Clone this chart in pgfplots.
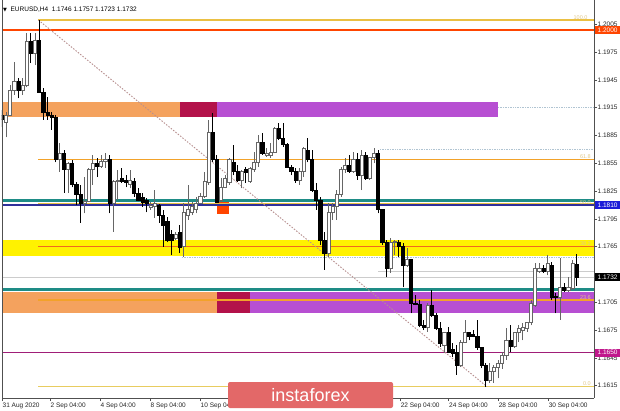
\documentclass[border=0pt]{standalone}
\usepackage{fontspec}
\setmainfont{Liberation Sans}
\newfontfamily\djv{DejaVu Sans}
\usepackage{pgfplots}
\usepackage{pgfplotstable}
\pgfplotsset{compat=1.18}
\definecolor{zorange}{HTML}{F4A25E}
\definecolor{zcrimson}{HTML}{B3124A}
\definecolor{zpurple}{HTML}{B74FD2}
\definecolor{zyellow}{HTML}{FFF200}
\definecolor{redline}{HTML}{FF4500}
\definecolor{tealline}{HTML}{1E8C86}
\definecolor{blueline}{HTML}{30309A}
\definecolor{bluebox}{HTML}{1C1CD8}
\definecolor{magline}{HTML}{A01E78}
\definecolor{magbox}{HTML}{C0188C}
\definecolor{fibgold}{HTML}{EBC043}
\definecolor{fibpale}{HTML}{E8CC60}
\definecolor{fiborange}{HTML}{F2A22A}
\definecolor{fibred}{HTML}{F06A1E}
\definecolor{fibtxt}{HTML}{E2C98A}
\definecolor{diag}{HTML}{B89090}
\definecolor{dotblue}{HTML}{B0C4D2}
\definecolor{wmark}{HTML}{E36868}
\definecolor{axcol}{HTML}{505050}

\pgfplotstableread{
k o h l c
0 1.1907 1.1913 1.1894 1.1902
1 1.1899 1.1910 1.1883 1.1907
2 1.1907 1.1939 1.1906 1.1934
3 1.1934 1.1964 1.1929 1.1943
4 1.1943 1.1947 1.1925 1.1934
5 1.1934 1.1947 1.1929 1.1939
6 1.1939 1.1996 1.1937 1.1986
7 1.1986 1.1996 1.1963 1.1974
8 1.1974 1.1996 1.1961 1.1988
9 1.1988 1.2010 1.1931 1.1932
10 1.1932 1.1936 1.1902 1.1910
11 1.1910 1.1927 1.1902 1.1907
12 1.1907 1.1910 1.1891 1.1904
13 1.1904 1.1907 1.1856 1.1859
14 1.1859 1.1877 1.1846 1.1866
15 1.1866 1.1869 1.1823 1.1848
16 1.1848 1.1856 1.1823 1.1855
17 1.1855 1.1859 1.1829 1.1832
18 1.1832 1.1835 1.1810 1.1821
19 1.1821 1.1832 1.1791 1.1812
20 1.1812 1.1840 1.1801 1.1814
21 1.1814 1.1850 1.1813 1.1848
22 1.1848 1.1864 1.1832 1.1855
23 1.1855 1.1861 1.1840 1.1852
24 1.1852 1.1864 1.1850 1.1857
25 1.1857 1.1866 1.1850 1.1859
26 1.1859 1.1864 1.1801 1.1812
27 1.1812 1.1837 1.1781 1.1835
28 1.1835 1.1848 1.1815 1.1837
29 1.1839 1.1850 1.1834 1.1835
30 1.1837 1.1842 1.1829 1.1834
31 1.1832 1.1848 1.1828 1.1837
32 1.1835 1.1839 1.1819 1.1823
33 1.1823 1.1828 1.1814 1.1815
34 1.1818 1.1823 1.1808 1.1813
35 1.1815 1.1817 1.1802 1.1812
36 1.1807 1.1813 1.1805 1.1810
37 1.1808 1.1826 1.1796 1.1812
38 1.1810 1.1811 1.1791 1.1799
39 1.1799 1.1805 1.1765 1.1788
40 1.1792 1.1797 1.1770 1.1772
41 1.1778 1.1783 1.1756 1.1772
42 1.1774 1.1781 1.1772 1.1778
43 1.1780 1.1788 1.1758 1.1764
44 1.1765 1.1812 1.1754 1.1802
45 1.1799 1.1832 1.1794 1.1805
46 1.1802 1.1813 1.1799 1.1808
47 1.1805 1.1819 1.1801 1.1812
48 1.1812 1.1823 1.1811 1.1819
49 1.1819 1.1846 1.1818 1.1835
50 1.1834 1.1902 1.1832 1.1888
51 1.1888 1.1909 1.1856 1.1859
52 1.1859 1.1864 1.1812 1.1813
53 1.1815 1.1839 1.1813 1.1829
54 1.1829 1.1842 1.1828 1.1839
55 1.1834 1.1861 1.1832 1.1859
56 1.1856 1.1875 1.1842 1.1846
57 1.1846 1.1853 1.1835 1.1837
58 1.1837 1.1848 1.1828 1.1846
59 1.1848 1.1851 1.1834 1.1845
60 1.1835 1.1851 1.1834 1.1850
61 1.1848 1.1867 1.1846 1.1856
62 1.1856 1.1885 1.1851 1.1878
63 1.1878 1.1888 1.1864 1.1866
64 1.1864 1.1871 1.1862 1.1866
65 1.1864 1.1877 1.1861 1.1867
66 1.1867 1.1894 1.1866 1.1893
67 1.1893 1.1899 1.1880 1.1882
68 1.1882 1.1898 1.1873 1.1875
69 1.1875 1.1877 1.1850 1.1851
70 1.1851 1.1853 1.1842 1.1846
71 1.1846 1.1850 1.1834 1.1837
72 1.1837 1.1850 1.1832 1.1846
73 1.1846 1.1873 1.1840 1.1871
74 1.1869 1.1882 1.1856 1.1859
75 1.1859 1.1869 1.1824 1.1826
76 1.1826 1.1834 1.1805 1.1815
77 1.1815 1.1819 1.1767 1.1772
78 1.1772 1.1781 1.1740 1.1758
79 1.1758 1.1812 1.1754 1.1802
80 1.1802 1.1812 1.1794 1.1808
81 1.1808 1.1826 1.1794 1.1821
82 1.1821 1.1851 1.1819 1.1848
83 1.1848 1.1861 1.1845 1.1853
84 1.1853 1.1864 1.1845 1.1846
85 1.1846 1.1867 1.1845 1.1859
86 1.1859 1.1866 1.1837 1.1842
87 1.1842 1.1869 1.1826 1.1864
88 1.1864 1.1867 1.1837 1.1839
89 1.1839 1.1861 1.1837 1.1861
90 1.1861 1.1871 1.1855 1.1866
91 1.1866 1.1869 1.1801 1.1805
92 1.1805 1.1806 1.1767 1.1770
93 1.1770 1.1772 1.1732 1.1742
94 1.1742 1.1774 1.1737 1.1770
95 1.1770 1.1772 1.1756 1.1771
96 1.1770 1.1772 1.1754 1.1765
97 1.1765 1.1769 1.1721 1.1745
98 1.1745 1.1764 1.1743 1.1751
99 1.1751 1.1752 1.1693 1.1704
100 1.1704 1.1713 1.1702 1.1703
101 1.1703 1.1707 1.1678 1.1680
102 1.1680 1.1686 1.1675 1.1678
103 1.1678 1.1704 1.1673 1.1702
104 1.1702 1.1718 1.1689 1.1691
105 1.1691 1.1693 1.1675 1.1677
106 1.1677 1.1684 1.1657 1.1661
107 1.1659 1.1673 1.1650 1.1672
108 1.1672 1.1678 1.1650 1.1651
109 1.1654 1.1661 1.1646 1.1650
110 1.1651 1.1659 1.1627 1.1637
111 1.1637 1.1664 1.1635 1.1662
112 1.1662 1.1686 1.1661 1.1672
113 1.1672 1.1673 1.1664 1.1668
114 1.1670 1.1675 1.1667 1.1668
115 1.1668 1.1686 1.1654 1.1656
116 1.1656 1.1657 1.1634 1.1637
117 1.1637 1.1639 1.1614 1.1621
118 1.1621 1.1639 1.1618 1.1630
119 1.1630 1.1637 1.1618 1.1635
120 1.1635 1.1643 1.1623 1.1639
121 1.1639 1.1651 1.1633 1.1648
122 1.1648 1.1677 1.1643 1.1664
123 1.1664 1.1680 1.1651 1.1657
124 1.1657 1.1673 1.1656 1.1672
125 1.1672 1.1680 1.1662 1.1677
126 1.1675 1.1683 1.1664 1.1678
127 1.1677 1.1684 1.1673 1.1683
128 1.1683 1.1707 1.1680 1.1704
129 1.1702 1.1747 1.1700 1.1742
130 1.1738 1.1747 1.1737 1.1742
131 1.1742 1.1745 1.1737 1.1738
132 1.1738 1.1756 1.1734 1.1747
133 1.1745 1.1748 1.1707 1.1710
134 1.1711 1.1715 1.1693 1.1710
135 1.1710 1.1753 1.1686 1.1721
136 1.1721 1.1726 1.1716 1.1718
137 1.1718 1.1732 1.1716 1.1721
138 1.1720 1.1751 1.1718 1.1747
139 1.1746 1.1757 1.1723 1.1732
}\candles

\begin{document}
\begin{tikzpicture}
\useasboundingbox (0,0) rectangle (620pt,410pt);
\fill[white] (0,0) rectangle (620pt,410pt);
\begin{axis}[
  at={(2pt,12pt)}, anchor=south west,
  width=592pt, height=398pt, scale only axis,
  xmin=0, xmax=143.2, ymin=1.16017, ymax=1.20312,
  axis x line*=bottom, axis y line*=right,
  axis line style={-, axcol, line width=0.8pt},
  every outer x axis line/.append style={-},
  every outer y axis line/.append style={-},
  clip mode=individual,
  ytick={1.1615,1.1645,1.1675,1.1705,1.1735,1.1765,1.1795,1.1825,1.1855,1.1885,1.1915,1.1945,1.1975,1.2005},
  yticklabels={1.1615,1.1645,1.1675,1.1705,,1.1765,1.1795,1.1825,1.1855,1.1885,1.1915,1.1945,1.1975,1.2005},
  xtick={0,11.6,23.7,35.8,47.9,60,72.1,84.2,96.3,108,120,132.1},
  xticklabels={31 Aug 2020,2 Sep 04:00,4 Sep 04:00,8 Sep 04:00,10 Sep 04:00,,,,22 Sep 04:00,24 Sep 04:00,28 Sep 04:00,30 Sep 04:00},
  tick align=outside, major tick length=3pt,
  tick style={axcol, line width=0.6pt},
  ticklabel style={font=\fontsize{6.5pt}{7pt}\selectfont, text=black!85},
  xticklabel style={anchor=north west, inner sep=0pt, xshift=0.5pt, yshift=-1.5pt},
  yticklabel style={anchor=west, inner sep=0pt, xshift=0.5pt},
]
% zones
\addplot[fill=zorange, draw=none, forget plot] coordinates {(0,1.19211) (43.05,1.19211) (43.05,1.19049) (0,1.19049)} -- cycle;
\addplot[fill=zcrimson, draw=none, forget plot] coordinates {(43.05,1.19211) (52.0,1.19211) (52.0,1.19049) (43.05,1.19049)} -- cycle;
\addplot[fill=zpurple, draw=none, forget plot] coordinates {(52.0,1.19211) (119.95,1.19211) (119.95,1.19049) (52.0,1.19049)} -- cycle;
\addplot[fill=zyellow, draw=none, forget plot] coordinates {(0,1.17722) (143.2,1.17722) (143.2,1.17550) (0,1.17550)} -- cycle;
\addplot[fill=zorange, draw=none, forget plot] coordinates {(0,1.17161) (52.0,1.17161) (52.0,1.16935) (0,1.16935)} -- cycle;
\addplot[fill=zcrimson, draw=none, forget plot] coordinates {(52.0,1.17161) (60.0,1.17161) (60.0,1.16935) (52.0,1.16935)} -- cycle;
\addplot[fill=zpurple, draw=none, forget plot] coordinates {(60.0,1.17161) (143.2,1.17161) (143.2,1.16935) (60.0,1.16935)} -- cycle;
\addplot[fill=redline, draw=none, forget plot] coordinates {(52.0,1.18132) (54.9,1.18132) (54.9,1.18002) (52.0,1.18002)} -- cycle;
% horizontal lines
\addplot[redline, line width=2.6pt, forget plot] coordinates {(0,1.19988) (143.2,1.19988)};
\addplot[fibgold, line width=1.3pt, forget plot] coordinates {(8.8,1.20096) (143.2,1.20096)};
\addplot[dotblue, line width=0.7pt, densely dotted, forget plot] coordinates {(119.95,1.19157) (143.2,1.19157)};
\addplot[dotblue, line width=0.7pt, densely dotted, forget plot] coordinates {(91.4,1.18704) (143.2,1.18704)};
\addplot[fiborange, line width=1.3pt, forget plot] coordinates {(8.8,1.18587) (143.2,1.18587)};
\addplot[tealline, line width=2.6pt, forget plot] coordinates {(0,1.18151) (143.2,1.18151)};
\addplot[blueline, line width=2.2pt, forget plot] coordinates {(0,1.18097) (143.2,1.18097)};
\addplot[fibgold, line width=1pt, forget plot] coordinates {(8.8,1.18120) (143.2,1.18120)};
\addplot[fibred, line width=1.2pt, forget plot] coordinates {(8.8,1.17653) (143.2,1.17653)};
\addplot[dotblue, line width=0.7pt, densely dotted, forget plot] coordinates {(43.5,1.17540) (143.2,1.17540)};
\addplot[black!20, line width=0.6pt, forget plot] coordinates {(91,1.17380) (143.2,1.17380)};
\addplot[black!20, line width=0.6pt, forget plot] coordinates {(0,1.17320) (143.2,1.17320)};
\addplot[tealline, line width=2.6pt, forget plot] coordinates {(0,1.17190) (143.2,1.17190)};
\addplot[fiborange, line width=1.2pt, forget plot] coordinates {(8.8,1.17075) (143.2,1.17075)};
\addplot[magline, line width=1.6pt, forget plot] coordinates {(0,1.16506) (143.2,1.16506)};
\addplot[fibpale, line width=1.3pt, forget plot] coordinates {(8.8,1.16140) (143.2,1.16140)};
\addplot[diag, line width=0.9pt, dash pattern=on 1.5pt off 1.5pt, forget plot] coordinates {(8.8,1.20096) (117.3,1.16140)};
% candles
\pgfplotsinvokeforeach{0,...,139}{
  \pgfplotstablegetelem{#1}{o}\of\candles\let\cO\pgfplotsretval
  \pgfplotstablegetelem{#1}{h}\of\candles\let\cH\pgfplotsretval
  \pgfplotstablegetelem{#1}{l}\of\candles\let\cL\pgfplotsretval
  \pgfplotstablegetelem{#1}{c}\of\candles\let\cC\pgfplotsretval
  \pgfmathsetmacro\xa{#1-0.38}
  \pgfmathsetmacro\xb{#1+0.38}
  \ifdim\cC pt<\cO pt \def\fc{black}\def\wc{black}\else\def\fc{white}\def\wc{black!60}\fi
  \edef\tmp{\noexpand\addplot[draw=\wc, line width=1pt, forget plot] coordinates {(#1,\cL) (#1,\cH)};
  \noexpand\addplot[draw=\wc, fill=\fc, line width=0.8pt, forget plot] coordinates {(\xa,\cO) (\xb,\cO) (\xb,\cC) (\xa,\cC)} -- cycle;}
  \tmp
}
% fib labels
\node[anchor=south east, text=fibtxt, font=\fontsize{5.5pt}{6pt}\selectfont, inner sep=0.6pt] at (axis cs:141.8,1.20096) {100.0};
\node[anchor=south east, text=fibtxt, font=\fontsize{5.5pt}{6pt}\selectfont, inner sep=0.6pt] at (axis cs:142.6,1.18587) {61.8};
\node[anchor=south east, text=fibtxt, font=\fontsize{5.5pt}{6pt}\selectfont, inner sep=0.6pt] at (axis cs:142.6,1.18100) {50.0};
\node[anchor=south east, text=fibtxt, font=\fontsize{5.5pt}{6pt}\selectfont, inner sep=0.6pt] at (axis cs:142.6,1.17653) {38.2};
\node[anchor=south east, text=fibtxt, font=\fontsize{5.5pt}{6pt}\selectfont, inner sep=0.6pt] at (axis cs:142.6,1.17075) {23.6};
\node[anchor=south east, text=fibtxt, font=\fontsize{5.5pt}{6pt}\selectfont, inner sep=0.6pt] at (axis cs:142.6,1.16140) {0.0};
% price boxes
\node[anchor=west, fill=redline, text=white, font=\fontsize{6.5pt}{7pt}\selectfont, inner xsep=1.5pt, inner ysep=0pt, minimum height=8pt, minimum width=26pt] at (axis cs:143.3,1.19988) {1.2000};
\node[anchor=west, fill=bluebox, text=white, font=\fontsize{6.5pt}{7pt}\selectfont, inner xsep=1.5pt, inner ysep=0pt, minimum height=8pt, minimum width=26pt] at (axis cs:143.3,1.18097) {1.1810};
\node[anchor=west, fill=black, text=white, font=\fontsize{6.5pt}{7pt}\selectfont, inner xsep=1.5pt, inner ysep=0pt, minimum height=8pt, minimum width=26pt] at (axis cs:143.3,1.17320) {1.1732};
\node[anchor=west, fill=magbox, text=white, font=\fontsize{6.5pt}{7pt}\selectfont, inner xsep=1.5pt, inner ysep=0pt, minimum height=8pt, minimum width=26pt] at (axis cs:143.3,1.16506) {1.1650};
\end{axis}
\draw[axcol, line width=0.8pt] (2pt,12pt) -- (2pt,410pt);
\node[anchor=west, inner sep=0pt, font=\fontsize{6.5pt}{7pt}\selectfont] at (3pt,400pt) {{\djv\fontsize{5pt}{6pt}\selectfont ▼}\ \ EURUSD,H4\ \ 1.1746 1.1757 1.1723 1.1732};
\node[fill=wmark, rounded corners=2pt, minimum width=165pt, minimum height=26pt, text=white, font=\fontsize{18pt}{20pt}\selectfont, inner sep=0pt] at (310.5pt,15pt) {instaforex};
\end{tikzpicture}
\end{document}
